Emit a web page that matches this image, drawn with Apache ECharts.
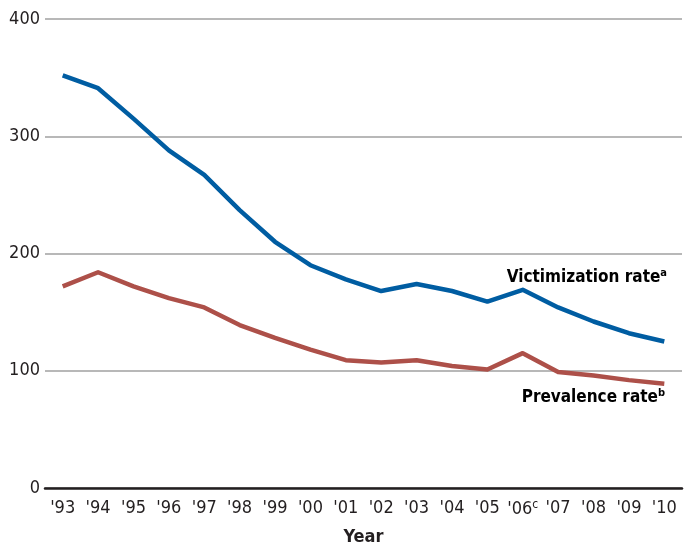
<!DOCTYPE html>
<html>
<head>
<meta charset="utf-8">
<script src="https://cdn.jsdelivr.net/npm/echarts@6/dist/echarts.min.js"></script>
<style>html,body{margin:0;padding:0;background:#fff}#c{width:693px;height:546px}</style>
</head>
<body>
<div id="c"></div>
<script>
var categories = ["'93","'94","'95","'96","'97","'98","'99","'00","'01","'02","'03","'04","'05","'06","'07","'08","'09","'10"];
var categoryNotes = {"'06": "c"};
var victimization = [352, 341, 315, 288, 267, 237, 210, 190, 178, 168, 174, 168, 159, 169, 154, 142, 132, 125];
var prevalence = [172, 184, 172, 162, 154, 139, 128, 118, 109, 107, 109, 104, 101, 115, 99, 96, 92, 89];
var yTicks = [0, 100, 200, 300, 400];
var seriesNames = ["Victimization rate", "Prevalence rate"];
var seriesNotes = ["a", "b"];

var FONT = "'Liberation Sans Narrow', 'DejaVu Sans Condensed', sans-serif";
var chart = echarts.init(document.getElementById('c'));
chart.setOption({
  animation: false,
  grid: {left: 45, right: 11, top: 19, bottom: 58, containLabel: false, outerBoundsMode: 'none'},
  xAxis: {
    type: 'category', data: categories, boundaryGap: true,
    name: 'Year', nameLocation: 'middle', nameGap: 40,
    nameTextStyle: {fontFamily: FONT, fontWeight: 'bold', fontSize: 18, color: '#231f20'},
    axisLine: {lineStyle: {color: '#231f20', width: 2.5}},
    axisTick: {show: false},
    axisLabel: {
      margin: 11, interval: 0,
      formatter: function (v) { return categoryNotes[v] ? '{n|' + v + '}{s|' + categoryNotes[v] + '}' : '{n|' + v + '}'; },
      rich: {
        n: {fontFamily: FONT, fontSize: 18, color: '#231f20'},
        s: {fontFamily: FONT, fontSize: 12, color: '#231f20', verticalAlign: 'top', padding: [0, 0, 8, 0]}
      }
    }
  },
  yAxis: {
    type: 'value', min: yTicks[0], max: yTicks[yTicks.length - 1], interval: 100,
    axisLine: {show: false}, axisTick: {show: false},
    axisLabel: {fontFamily: FONT, fontSize: 18, color: '#231f20', margin: 5},
    splitLine: {lineStyle: {color: '#a0a0a0', width: 1.5}}
  },
  series: [
    {name: seriesNames[0], type: 'line', data: victimization, symbol: 'none', z: 3,
     lineStyle: {color: '#005da2', width: 4.5, join: 'round'}},
    {name: seriesNames[1], type: 'line', data: prevalence, symbol: 'none', z: 3,
     lineStyle: {color: '#ad5049', width: 4.5, join: 'round'}}
  ],
  graphic: [
    {type: 'text', right: 26, top: 268, style: {
      text: '{t|' + seriesNames[0] + '}{s|' + seriesNotes[0] + '}',
      rich: {t: {fontFamily: FONT, fontWeight: 'bold', fontSize: 17, color: '#231f20'},
             s: {fontFamily: FONT, fontWeight: 'bold', fontSize: 11, color: '#231f20', verticalAlign: 'top', padding: [0, 0, 9, 0]}}}},
    {type: 'text', right: 28, top: 388, style: {
      text: '{t|' + seriesNames[1] + '}{s|' + seriesNotes[1] + '}',
      rich: {t: {fontFamily: FONT, fontWeight: 'bold', fontSize: 17, color: '#231f20'},
             s: {fontFamily: FONT, fontWeight: 'bold', fontSize: 11, color: '#231f20', verticalAlign: 'top', padding: [0, 0, 9, 0]}}}}
  ]
});
</script>
</body>
</html>
